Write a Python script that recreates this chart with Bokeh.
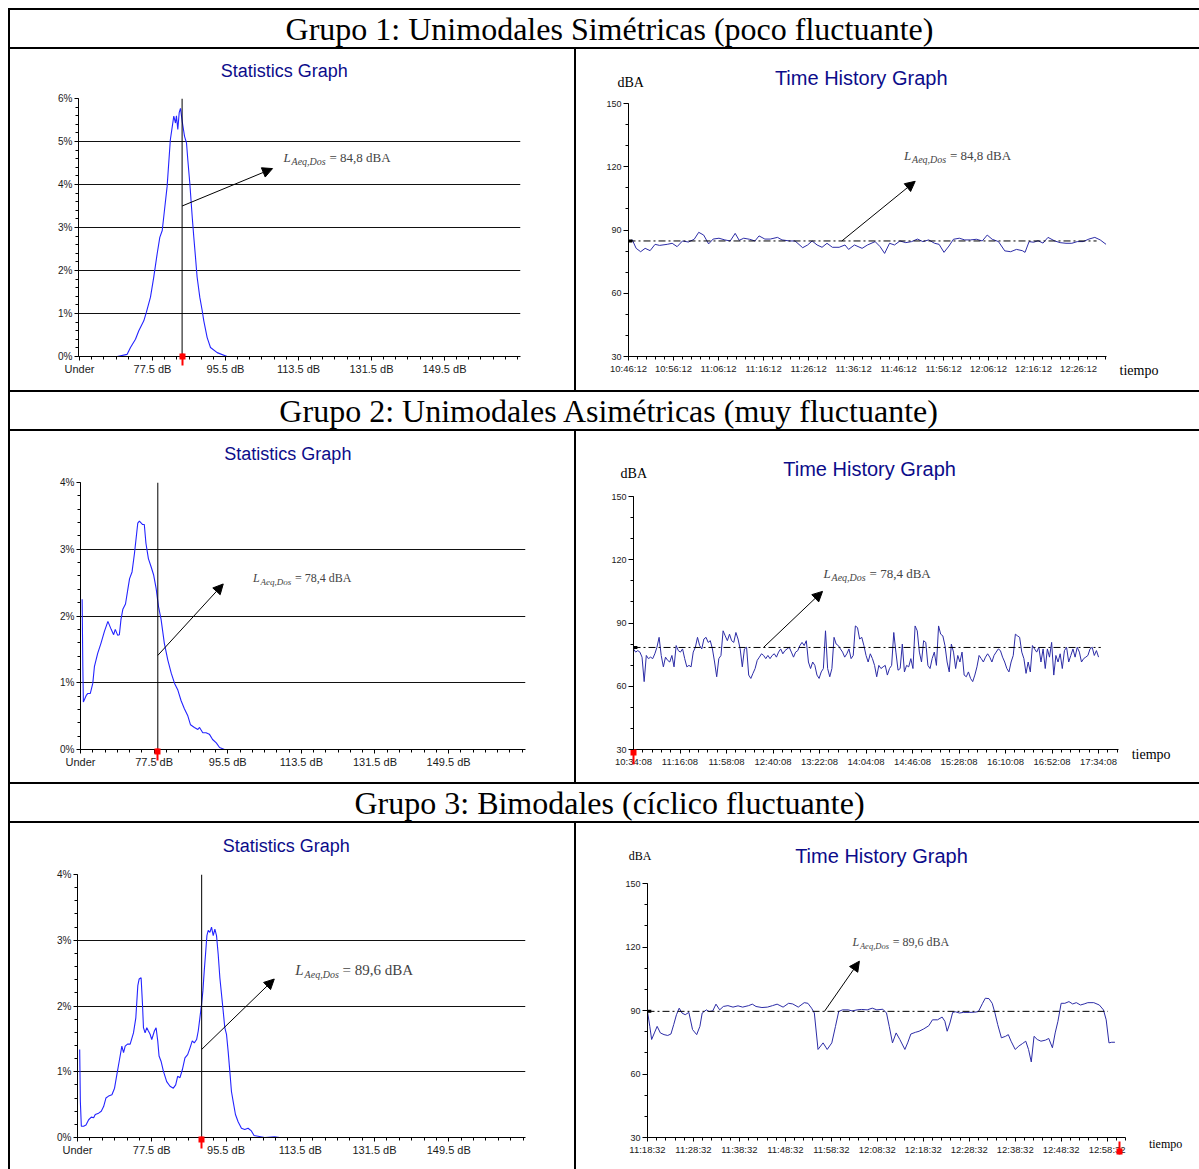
import numpy as np
from bokeh.plotting import figure
from bokeh.models import Range1d, FixedTicker, Label, Arrow, NormalHead, Spacer, LinearAxis
from bokeh.layouts import column, row
from bokeh.embed import file_html
from bokeh.resources import INLINE

# ---------------------------------------------------------------- data
group_titles = ["Grupo 1: Unimodales Simétricas (poco fluctuante)",
                "Grupo 2: Unimodales Asimétricas (muy fluctuante)",
                "Grupo 3: Bimodales (cíclico fluctuante)"]
stat_title = "Statistics Graph"
time_title = "Time History Graph"
dba_label = "dBA"
tiempo_label = "tiempo"

stat_x_ticks = [59.5, 77.5, 95.5, 113.5, 131.5, 149.5]
stat_x_labels = ["Under", "77.5 dB", "95.5 dB", "113.5 dB", "131.5 dB", "149.5 dB"]
stat1_y_ticks = [0, 1, 2, 3, 4, 5, 6]
stat1_y_labels = ["0%", "1%", "2%", "3%", "4%", "5%", "6%"]
stat23_y_ticks = [0, 1, 2, 3, 4]
stat23_y_labels = ["0%", "1%", "2%", "3%", "4%"]

laeq = [84.8, 78.4, 89.6]
laeq_text = ["= 84,8 dBA", "= 78,4 dBA", "= 89,6 dBA"]

# Statistics graph 1 (dB, % of time)
stat1_db = [64.67, 68.79, 71.25, 72.07, 73.3, 74.12, 75.35, 76.0, 77.0, 77.8,
            78.65, 79.3, 79.9, 80.45, 81.1, 81.9, 82.75, 83.17, 83.4, 83.74,
            84.08, 84.4, 84.82, 85.4, 85.88, 86.2, 86.7, 87.29, 87.68, 88.1,
            88.5, 89.16, 89.75, 90.15, 90.98, 91.8, 93.45, 95.9, 101.66]
stat1_pct = [0.0, 0.0, 0.05, 0.21, 0.40, 0.60, 0.83, 1.03, 1.38, 1.84,
             2.39, 2.77, 2.93, 3.40, 3.95, 5.04, 5.59, 5.43, 5.60, 5.28,
             5.67, 5.77, 5.47, 5.12, 4.97, 4.58, 4.03, 3.25, 2.78, 2.31,
             1.85, 1.38, 1.07, 0.83, 0.44, 0.21, 0.09, 0.0, 0.0]

# Statistics graph 2
stat2_db = [59.9, 60.07, 60.2, 60.9, 61.3, 61.9, 62.5, 62.9, 63.7, 64.5,
            65.35, 66.2, 67.0, 67.6, 68.0, 68.6, 69.0, 69.4, 69.85, 70.5,
            71.1, 71.5, 72.1, 72.7, 73.5, 73.9, 74.7, 75.1, 75.5, 76.1,
            76.8, 77.4, 78.0, 78.55, 79.2, 80.0, 80.85, 81.7, 82.5, 83.3,
            84.1, 84.9, 85.7, 86.4, 87.35, 88.2, 88.6, 89.4, 90.2, 91.0,
            91.8, 92.7, 93.5, 94.7]
stat2_pct = [2.25, 1.24, 0.71, 0.81, 0.84, 0.84, 0.99, 1.24, 1.44, 1.59,
             1.77, 1.92, 1.80, 1.72, 1.80, 1.71, 1.72, 1.95, 2.10, 2.18,
             2.41, 2.56, 2.66, 2.94, 3.39, 3.42, 3.37, 3.37, 3.09, 2.86,
             2.73, 2.61, 2.41, 2.15, 1.95, 1.59, 1.34, 1.14, 0.99, 0.89,
             0.73, 0.61, 0.51, 0.37, 0.33, 0.30, 0.33, 0.25, 0.25, 0.23,
             0.15, 0.10, 0.03, 0.0]

# Statistics graph 3
stat3_db = [60.03, 60.19, 60.43, 60.99, 61.56, 62.2, 62.85, 63.41, 63.81, 64.62,
            65.26, 65.83, 66.39, 67.03, 67.84, 68.48, 69.05, 69.61, 70.25, 70.66,
            71.06, 71.62, 72.27, 73.07, 73.64, 74.12, 74.44, 74.92, 75.25, 75.49,
            75.89, 76.29, 76.69, 77.1, 77.5, 78.14, 78.55, 78.95, 79.27, 79.75,
            80.32, 81.12, 81.93, 82.73, 83.3, 83.78, 84.34, 84.91, 85.55, 86.2,
            86.76, 87.32, 87.81, 88.37, 88.77, 89.17, 89.58, 89.9, 90.22, 90.54,
            90.87, 91.19, 91.59, 91.99, 92.4, 92.8, 93.2, 93.6, 94.01, 94.57,
            95.21, 95.62, 96.02, 96.42, 96.82, 97.23, 97.79, 98.43, 99.24, 100.04,
            100.85, 101.65, 102.3, 103.26, 104.88, 107.29, 108.5]
stat3_pct = [1.34, 0.55, 0.17, 0.17, 0.19, 0.27, 0.31, 0.30, 0.35, 0.37,
             0.40, 0.47, 0.60, 0.63, 0.65, 0.75, 0.96, 1.16, 1.39, 1.29,
             1.39, 1.42, 1.42, 1.59, 1.82, 2.31, 2.41, 2.43, 2.03, 1.67,
             1.59, 1.67, 1.62, 1.57, 1.49, 1.62, 1.67, 1.47, 1.24, 1.16,
             1.01, 0.85, 0.78, 0.75, 0.80, 0.93, 0.91, 1.03, 1.21, 1.26,
             1.36, 1.47, 1.44, 1.49, 1.62, 1.82, 2.03, 2.23, 2.53, 2.79,
             3.07, 3.15, 3.12, 3.20, 3.07, 3.17, 3.07, 2.79, 2.43, 2.08,
             1.67, 1.57, 1.31, 1.01, 0.70, 0.55, 0.35, 0.24, 0.14, 0.12,
             0.14, 0.10, 0.03, 0.02, 0.0, 0.01, 0.0]

# Time history axes
th_y_ticks = [30, 60, 90, 120, 150]
th_y_labels = ["30", "60", "90", "120", "150"]
th1_tick_min = [0, 10, 20, 30, 40, 50, 60, 70, 80, 90, 100]
th1_tick_labels = ["10:46:12", "10:56:12", "11:06:12", "11:16:12", "11:26:12", "11:36:12",
                   "11:46:12", "11:56:12", "12:06:12", "12:16:12", "12:26:12"]
th2_tick_min = [0, 42, 84, 126, 168, 210, 252, 294, 336, 378, 420]
th2_tick_labels = ["10:34:08", "11:16:08", "11:58:08", "12:40:08", "13:22:08", "14:04:08",
                   "14:46:08", "15:28:08", "16:10:08", "16:52:08", "17:34:08"]
th3_tick_min = [0, 10, 20, 30, 40, 50, 60, 70, 80, 90, 100]
th3_tick_labels = ["11:18:32", "11:28:32", "11:38:32", "11:48:32", "11:58:32", "12:08:32",
                   "12:18:32", "12:28:32", "12:38:32", "12:48:32", "12:58:32"]

# Time history 1 (minutes from start, dBA)
th1_min = [0, 0.85, 1.7, 2.7, 3.7, 4.8, 5.9, 6.9, 8.6, 9.7,
           10.8, 12.0, 13.3, 14.6, 15.6, 16.7, 17.8, 18.8, 20.1, 21.4,
           22.6, 23.7, 24.6, 25.6, 26.9, 28.1, 29.0, 30.3, 31.5, 33.1,
           34.1, 35.8, 37.0, 38.7, 39.8, 40.8, 41.9, 43.0, 44.1, 45.3,
           46.8, 48.1, 48.9, 50.2, 51.9, 53.1, 54.8, 55.9, 56.9, 58.0,
           59.1, 60.3, 61.6, 62.9, 64.2, 65.4, 66.7, 68.0, 69.0, 70.1,
           71.2, 72.2, 73.5, 74.7, 76.0, 77.3, 78.6, 79.7, 80.8, 82.2,
           83.6, 84.9, 86.2, 87.5, 88.1, 89.0, 90.0, 91.0, 92.1, 93.2,
           94.7, 95.9, 97.2, 98.5, 99.7, 101.0, 102.3, 103.6, 104.8, 106.1]
th1_dba = [84.5, 85.3, 81.3, 79.7, 81.3, 80.2, 83.2, 82.7, 83.2, 83.7,
           82.1, 84.8, 84.3, 85.6, 88.9, 87.6, 83.4, 85.7, 86.1, 85.3,
           84.8, 88.4, 85.1, 86.1, 85.6, 84.8, 87.2, 85.7, 85.7, 86.5,
           85.3, 84.8, 84.8, 81.6, 82.9, 84.8, 82.9, 81.8, 83.7, 81.8,
           81.8, 82.9, 80.8, 82.9, 81.3, 82.9, 84.5, 82.1, 78.9, 83.7,
           82.9, 84.8, 84.0, 84.5, 85.7, 84.5, 85.3, 83.7, 83.2, 79.4,
           82.4, 85.6, 86.1, 85.3, 85.3, 85.6, 84.8, 87.6, 85.6, 84.5,
           80.1, 79.7, 80.8, 80.2, 79.4, 84.5, 84.2, 84.9, 83.8, 86.5,
           84.8, 84.0, 83.7, 83.7, 84.5, 84.5, 85.7, 86.5, 85.3, 83.2]

# Time history 2 (regular logging interval over 420 min, dBA)
th2_span_min = 420
th2_dba = [77.7, 76.2, 76.9, 76.2, 73.8, 62.2, 74.6, 73.1, 73.8, 73.1,
           75.4, 78.5, 83.2, 74.6, 69.2, 73.8, 72.3, 71.5, 74.6, 69.2,
           79.3, 76.9, 76.2, 77.7, 73.1, 69.2, 69.9, 69.2, 76.2, 78.5,
           83.2, 79.3, 77.7, 82.4, 83.2, 80.8, 81.6, 77.7, 71.5, 64.5,
           73.1, 74.6, 86.3, 83.9, 81.6, 84.7, 81.6, 80.8, 85.5, 82.4,
           77.7, 69.2, 77.7, 78.5, 65.3, 63.7, 66.1, 68.4, 72.3, 73.8,
           75.4, 74.6, 73.1, 74.6, 73.1, 74.6, 75.4, 73.8, 76.2, 77.7,
           75.4, 76.9, 77.7, 78.5, 76.2, 73.8, 76.2, 76.9, 79.3, 80.8,
           79.3, 81.6, 71.5, 68.4, 71.5, 69.9, 65.3, 63.7, 66.8, 68.4,
           86.3, 68.4, 64.5, 68.4, 83.2, 80.0, 79.3, 77.7, 76.2, 73.8,
           75.4, 77.7, 73.1, 74.6, 88.6, 87.8, 82.4, 83.2, 79.3, 74.6,
           71.5, 75.4, 73.1, 69.9, 64.5, 69.9, 68.4, 69.2, 69.9, 65.3,
           68.4, 69.9, 85.5, 76.2, 67.6, 68.4, 80.0, 66.8, 69.9, 69.2,
           73.1, 68.4, 88.6, 86.3, 76.2, 71.5, 81.6, 80.8, 69.9, 68.4,
           73.1, 76.2, 69.9, 88.6, 84.7, 83.9, 79.3, 71.5, 66.8, 80.0,
           76.2, 68.4, 74.6, 71.5, 76.2, 65.3, 64.5, 66.8, 63.7, 62.2,
           65.3, 69.2, 74.6, 73.1, 71.5, 73.8, 75.4, 73.8, 71.5, 74.6,
           76.2, 77.7, 76.9, 73.8, 71.5, 68.4, 66.8, 71.5, 74.6, 84.7,
           83.9, 83.2, 76.2, 73.1, 66.1, 71.5, 66.8, 79.3, 77.7, 76.2,
           78.5, 71.5, 77.7, 68.4, 77.7, 73.8, 80.8, 65.3, 74.6, 71.5,
           75.4, 68.4, 76.9, 78.5, 71.5, 74.6, 77.7, 73.8, 78.5, 76.2,
           71.5, 73.1, 73.8, 74.6, 77.7, 78.5, 74.6, 76.9, 73.8]

# Time history 3 (minutes from start, dBA)
th3_min = [0, 0.5, 0.9, 1.5, 2.1, 2.8, 3.6, 4.4, 5.1, 5.7,
           6.3, 6.9, 7.5, 8.2, 9.0, 9.8, 10.7, 11.4, 11.9, 12.8,
           13.4, 14.2, 14.9, 15.7, 16.5, 17.5, 18.6, 19.7, 20.7, 22.0,
           22.8, 23.6, 24.9, 26.1, 27.2, 28.2, 29.5, 30.7, 31.6, 32.8,
           34.1, 34.9, 35.7, 36.3, 37.1, 38.2, 39.1, 40.1, 40.9, 41.6,
           42.4, 43.7, 44.5, 45.6, 46.6, 47.8, 48.9, 49.9, 51.2, 52.0,
           52.6, 53.3, 54.1, 54.9, 56.0, 56.6, 57.3, 58.3, 59.1, 60.1,
           61.2, 62.0, 63.1, 64.1, 64.7, 65.2, 65.8, 66.4, 67.0, 67.9,
           68.7, 70.0, 71.2, 72.0, 72.9, 73.5, 74.3, 75.0, 75.6, 76.2,
           77.0, 77.9, 78.5, 79.1, 80.0, 80.8, 81.6, 82.3, 82.9, 83.5,
           84.1, 84.8, 85.6, 86.6, 87.3, 88.1, 88.7, 89.3, 90.0, 90.8,
           91.7, 92.5, 93.3, 94.2, 95.0, 95.8, 97.1, 98.3, 99.2, 99.8,
           100.4, 101.0, 101.7]
th3_dba = [89.5, 82.5, 76.3, 79.4, 82.5, 79.4, 78.6, 78.2, 78.9, 83.3,
           88.0, 91.1, 88.8, 88.0, 89.1, 81.0, 78.6, 82.5, 88.8, 90.3,
           89.5, 89.8, 93.0, 90.3, 91.9, 92.3, 91.6, 92.2, 91.6, 92.3,
           93.0, 91.9, 91.4, 91.6, 92.3, 93.0, 91.6, 93.4, 93.1, 91.6,
           93.7, 93.4, 91.1, 88.8, 71.6, 74.7, 71.6, 74.7, 82.5, 89.5,
           90.3, 90.3, 89.8, 90.3, 90.5, 90.3, 91.1, 90.3, 90.6, 88.8,
           82.5, 74.7, 79.4, 76.3, 71.6, 74.7, 78.9, 79.7, 80.2, 81.3,
           82.8, 85.6, 85.6, 86.9, 84.9, 80.2, 84.1, 89.1, 89.4, 88.8,
           89.1, 89.1, 89.2, 89.5, 93.4, 95.8, 95.6, 93.4, 88.8, 83.3,
           77.1, 77.8, 78.6, 75.5, 71.6, 73.2, 74.4, 75.5, 71.6, 65.7,
           77.8, 76.3, 75.5, 76.0, 76.8, 72.4, 79.4, 84.9, 93.4, 93.4,
           94.2, 93.1, 93.7, 92.6, 93.1, 93.7, 93.7, 92.6, 90.3, 85.6,
           74.7, 75.0, 75.0]

# instrument cursor positions (minutes) shown by the red markers
th2_cursor_min = 0
th3_cursor_min = 102.6

# ---------------------------------------------------------------- style
NAVY = "#0c0c8a"
CURVE = "#2424ff"
TRACE = "#2c2ca6"
SANS = "Liberation Sans"
SERIF = "Liberation Serif"
WHITE_BG = {"background-color": "white"}

PAGE_MARGIN = 8
BORDER = 2
STAT_W = 564
TIME_W = 623
TITLE_W = STAT_W + BORDER + TIME_W
TOTAL_W = BORDER + TITLE_W
TITLE_H = 37
PANEL_H = [341, 351, 346]
ROW_TOP = [49, 51, 51]       # frame top border shared by the two plots of a row
ROW_BOTTOM = [34, 33, 32]    # frame bottom border shared by the two plots of a row
TIME_TOP_TICK = [54, 65, 60]  # pixel offset of the 150 dBA tick from the cell top


def style_axis(ax, size, major_out=4, minor_out=2):
    ax.axis_line_color = "black"
    ax.major_tick_line_color = "black"
    ax.minor_tick_line_color = "black"
    ax.major_tick_in = 0
    ax.major_tick_out = major_out
    ax.minor_tick_in = 0
    ax.minor_tick_out = minor_out
    ax.major_label_text_font = SANS
    ax.major_label_text_font_size = size
    ax.major_label_text_color = "#1a1a1a"
    ax.major_label_standoff = 2


def base_fig(w, h, ml, mr, mt, mb, xr, yr):
    p = figure(width=w, height=h, x_range=Range1d(*xr), y_range=Range1d(*yr),
               output_backend="svg", toolbar_location=None,
               min_border_left=ml, min_border_right=mr,
               min_border_top=mt, min_border_bottom=mb,
               outline_line_color=None, styles=WHITE_BG)
    p.xgrid.visible = False
    p.ygrid.visible = False
    return p


def side_label(p, place, x, y, txt, font, size, color="black", align="left"):
    p.add_layout(Label(x=x, y=y, text=txt, text_font=font, text_font_size=f"{size}px",
                       text_color=color, text_align=align, text_baseline="middle"), place)


def laeq_label(p, x, y, txt, s_main, s_sub):
    sub_off = 0.62 * s_main
    eq_off = sub_off + 3.5 * s_sub + 3
    p.add_layout(Label(x=x, y=y, text="L", text_font=SERIF, text_font_style="italic",
                       text_font_size=f"{s_main}px", text_baseline="alphabetic"))
    p.add_layout(Label(x=x, y=y, x_offset=sub_off, y_offset=-0.3 * s_main, text="Aeq,Dos",
                       text_font=SERIF, text_font_style="italic",
                       text_font_size=f"{s_sub}px", text_baseline="alphabetic"))
    p.add_layout(Label(x=x, y=y, x_offset=eq_off, text=txt, text_font=SERIF,
                       text_font_size=f"{s_main}px", text_baseline="alphabetic"))


def make_arrow(a, size=10, color="black", width=1):
    return Arrow(end=NormalHead(size=size, fill_color=color, line_color=color),
                 x_start=a[0], y_start=a[1], x_end=a[2], y_end=a[3],
                 line_color=color, line_width=width)


def red_tick(p, xval, t_in, t_out, width):
    # tick-only axis below the main one: its single red tick draws part of the cursor mark
    ax = LinearAxis(ticker=FixedTicker(ticks=[xval], minor_ticks=[]))
    ax.axis_line_color = None
    ax.major_tick_line_color = "red"
    ax.major_tick_line_width = width
    ax.major_tick_in = t_in
    ax.major_tick_out = t_out
    ax.minor_tick_line_color = None
    ax.minor_tick_in = 0
    ax.minor_tick_out = 0
    ax.major_label_text_font_size = "0px"
    ax.major_label_text_alpha = 0
    ax.major_label_standoff = 0
    p.add_layout(ax, "below")


def red_cursor(p, xval, axis_h, top, bottom, head_top, head_bottom):
    # offsets (px) below the frame edge; the main axis band is axis_h px tall
    red_tick(p, xval, axis_h - top, bottom - axis_h, 2)
    red_tick(p, xval, axis_h - head_top, head_bottom - axis_h, 6)


def stat_panel(i, mrg_lr, xr, yt, ylabels, xs, ys, lq, lqtxt, title_xy, arrow, lab, red):
    p = base_fig(STAT_W, PANEL_H[i], mrg_lr[0], mrg_lr[1], ROW_TOP[i], ROW_BOTTOM[i],
                 xr, (0, yt[-1]))
    p.yaxis.ticker = FixedTicker(ticks=yt, minor_ticks=[k * 0.2 for k in range(yt[-1] * 5 + 1)])
    p.yaxis.major_label_overrides = dict(zip(yt, ylabels))
    p.xaxis.ticker = FixedTicker(ticks=stat_x_ticks,
                                 minor_ticks=[59.5 + 3 * k for k in range(37)])
    p.xaxis.major_label_overrides = dict(zip(stat_x_ticks, stat_x_labels))
    style_axis(p.yaxis[0], "10px", 4, 3)
    style_axis(p.xaxis[0], "11px", 4, 3)
    p.ygrid.visible = True
    p.ygrid.grid_line_color = "#111111"
    p.ygrid.grid_line_width = 1
    p.line(xs, ys, line_color=CURVE, line_width=1.1)
    p.line([lq, lq], [0, yt[-1]], line_color="black", line_width=1)
    p.add_layout(make_arrow(arrow))
    red_cursor(p, lq, *red)
    side_label(p, "above", title_xy[0], title_xy[1], stat_title, SANS, 18, NAVY, "center")
    laeq_label(p, lab[0], lab[1], lqtxt, lab[2], lab[3])
    return p


def time_panel(i, mrg_lr, xr, ticks, tlabels, minor_step, xs, ys, lq, lqtxt, dash_end,
               title_xy, dba_xy, tiempo_xy, arrow, lab, red, small=14):
    h = PANEL_H[i]
    frame_h = h - ROW_TOP[i] - ROW_BOTTOM[i]
    per_px = 120.0 / (frame_h - (TIME_TOP_TICK[i] - ROW_TOP[i]))
    y_top = 150 + (TIME_TOP_TICK[i] - ROW_TOP[i]) * per_px
    p = base_fig(TIME_W, h, mrg_lr[0], mrg_lr[1], ROW_TOP[i], ROW_BOTTOM[i], xr, (30, y_top))
    p.yaxis.ticker = FixedTicker(ticks=th_y_ticks, minor_ticks=list(range(30, 151, 10)))
    p.yaxis.major_label_overrides = dict(zip(th_y_ticks, th_y_labels))
    p.yaxis.bounds = (30, 150)
    p.xaxis.ticker = FixedTicker(ticks=ticks,
                                 minor_ticks=[k * minor_step for k in range(int(xr[1] / minor_step) + 1)])
    p.xaxis.major_label_overrides = dict(zip(ticks, tlabels))
    style_axis(p.yaxis[0], "9px", 5, 3)
    style_axis(p.xaxis[0], "9.5px", 4, 3)
    p.line(xs, ys, line_color=TRACE, line_width=1)
    p.line([0, dash_end], [lq, lq], line_color="black", line_width=1, line_dash="7 3 2 3")
    p.line([0, xr[1] * 0.008], [lq, lq], line_color="black", line_width=3)
    p.add_layout(make_arrow(arrow))
    if red is not None:
        red_cursor(p, *red)
    side_label(p, "above", title_xy[0], title_xy[1], time_title, SANS, 20, NAVY, "center")
    side_label(p, "above", dba_xy[0], dba_xy[1], dba_label, SERIF, small)
    side_label(p, "right", tiempo_xy[0], tiempo_xy[1], tiempo_label, SERIF, small)
    laeq_label(p, lab[0], lab[1], lqtxt, lab[2], lab[3])
    return p


def title_fig(txt):
    p = figure(width=TITLE_W, height=TITLE_H, x_range=Range1d(0, TITLE_W), y_range=Range1d(0, 1),
               output_backend="svg", toolbar_location=None, x_axis_type=None, y_axis_type=None,
               min_border=0, outline_line_color=None, styles=WHITE_BG)
    p.grid.visible = False
    p.add_layout(Label(x=599, y=0.5, text=txt, text_font=SERIF, text_font_size="32px",
                       text_align="center", text_baseline="middle", text_color="black"))
    return p


# ---------------------------------------------------------------- panels
s1 = stat_panel(0, (68, 54), (59.25, 168.25), stat1_y_ticks, stat1_y_labels,
                stat1_db, stat1_pct, laeq[0], laeq_text[0],
                (110.0, 6.63), (laeq[0], 3.50, 107.1, 4.37), (109.8, 4.62, 13, 10),
                (23, -1, 11, -1, 5))
s2 = stat_panel(1, (70, 49), (59.5, 168.3), stat23_y_ticks, stat23_y_labels,
                stat2_db, stat2_pct, laeq[1], laeq_text[1],
                (110.2, 4.43), (laeq[1], 1.41, 94.4, 2.48), (101.7, 2.57, 12, 9),
                (22, 0, 12, 0, 6))
s3 = stat_panel(2, (67, 49), (59.5, 168.1), stat23_y_ticks, stat23_y_labels,
                stat3_db, stat3_pct, laeq[2], laeq_text[2],
                (110.1, 4.43), (laeq[2], 1.34, 107.2, 2.41), (112.3, 2.54, 15, 10),
                (22, 0, 12, 0, 6))

th2_min = np.linspace(0, th2_span_min, len(th2_dba))

h1 = time_panel(0, (52, 93), (0, 106.2), th1_tick_min, th1_tick_labels, 2,
                th1_min, th1_dba, laeq[0], laeq_text[0], 104,
                (51.7, 162.3), (-2.45, 159.9), (109.1, 23.4),
                (47.4, laeq[0], 63.7, 113.1), (61.2, 125.5, 13, 10), None)
h2 = time_panel(1, (57, 81), (0, 438), th2_tick_min, th2_tick_labels, 8.4,
                th2_min, th2_dba, laeq[1], laeq_text[1], 422,
                (213.2, 163.1), (-11.7, 160.8), (449.9, 27.7),
                (117.4, laeq[1], 170.7, 105.0), (171.6, 113.5, 13, 10),
                (th2_cursor_min, 20, 0, 15, 0, 6))
h3 = time_panel(2, (71, 74), (0, 104), th3_tick_min, th3_tick_labels, 2,
                th3_min, th3_dba, laeq[2], laeq_text[2], 100.2,
                (50.9, 163.2), (-4.1, 163.2), (109.1, 26.7),
                (38.5, laeq[2], 46.1, 113.3), (44.6, 122.2, 12, 8.5),
                (th3_cursor_min, 18, 2, 15, 9, 15), small=12)

t1, t2, t3 = (title_fig(t) for t in group_titles)


def hbar():
    return Spacer(width=TOTAL_W, height=BORDER)


def vbar(h):
    return Spacer(width=BORDER, height=h)


table = column(
    hbar(),
    row(vbar(TITLE_H), t1), hbar(),
    row(vbar(PANEL_H[0]), s1, vbar(PANEL_H[0]), h1), hbar(),
    row(vbar(TITLE_H), t2), hbar(),
    row(vbar(PANEL_H[1]), s2, vbar(PANEL_H[1]), h2), hbar(),
    row(vbar(TITLE_H), t3), hbar(),
    row(vbar(PANEL_H[2]), s3, vbar(PANEL_H[2]), h3),
    styles={"background-color": "black"},
)
TABLE_H = 6 * BORDER + 3 * TITLE_H + sum(PANEL_H)

page = row(Spacer(width=PAGE_MARGIN, height=PAGE_MARGIN + TABLE_H),
           column(Spacer(width=TOTAL_W, height=PAGE_MARGIN), table))

open("out.html", "w").write(file_html(page, INLINE))
